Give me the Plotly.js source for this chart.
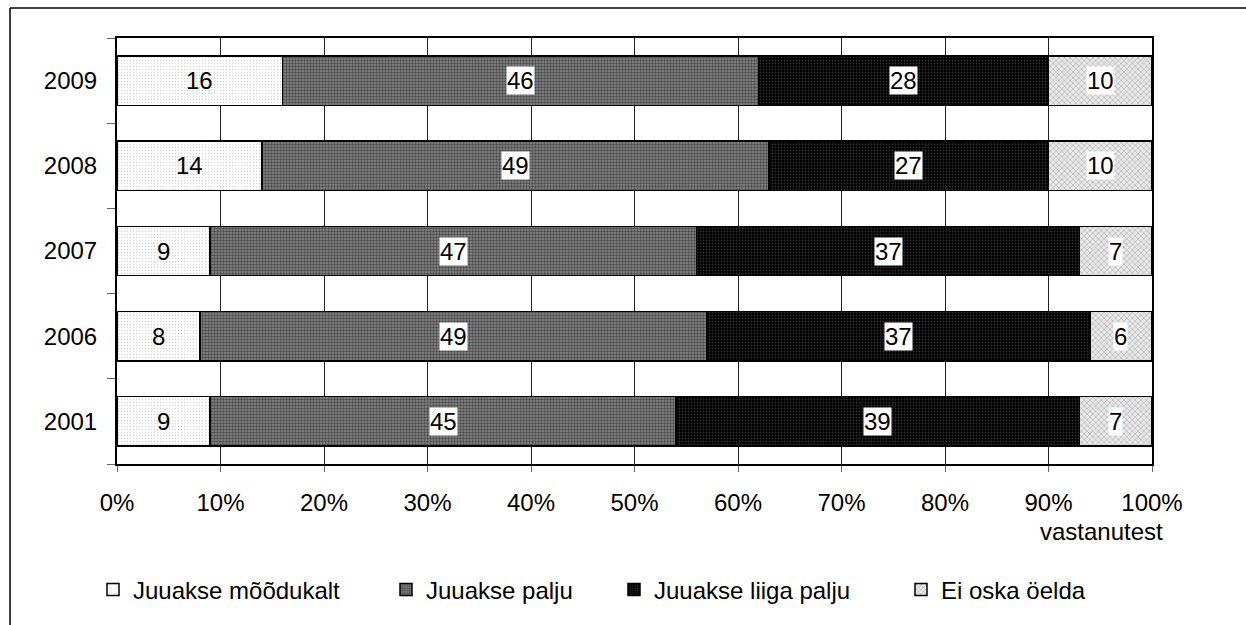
<!DOCTYPE html>
<html>
<head>
<meta charset="utf-8">
<script src="https://cdn.plot.ly/plotly-3.0.1.min.js"></script>
<style>html,body{margin:0;padding:0;background:#fff;}#chart{width:1246px;height:625px;}</style>
</head>
<body>
<div id="chart"></div>
<script>
// Data
const years = ['2009', '2008', '2007', '2006', '2001'];
const seriesNames = ['Juuakse mõõdukalt', 'Juuakse palju', 'Juuakse liiga palju', 'Ei oska öelda'];
const moodukalt = [16, 14, 9, 8, 9];
const palju = [46, 49, 47, 49, 45];
const liigaPalju = [28, 27, 37, 37, 39];
const eiOska = [10, 10, 7, 6, 7];
const xTickVals = [0, 10, 20, 30, 40, 50, 60, 70, 80, 90, 100];
const xTickText = ['0%', '10%', '20%', '30%', '40%', '50%', '60%', '70%', '80%', '90%', '100%'];
const unitLabel = 'vastanutest';

const allSeries = [moodukalt, palju, liigaPalju, eiOska];
const catOrder = years.slice().reverse(); // bottom to top
const patterns = [
  {shape: '.', bgcolor: '#ffffff', fgcolor: '#d2d2d2', size: 3, solidity: 0.15},
  {shape: '.', bgcolor: '#8a8a8a', fgcolor: '#4a4a4a', size: 3, solidity: 0.5},
  {shape: '.', bgcolor: '#000000', fgcolor: '#2e2e2e', size: 3, solidity: 0.3},
  {shape: 'x', bgcolor: '#e8e8e8', fgcolor: '#b0b0b0', size: 4, solidity: 0.3}
];
const legendIds = ['legend', 'legend2', 'legend3', 'legend4'];
const legendSquareX = [107, 400, 628, 915];

const mkFont = () => ({family: 'Liberation Sans, Arial, sans-serif', size: 24, color: '#000'});

const traces = allSeries.map((vals, i) => ({
  type: 'bar',
  orientation: 'h',
  name: seriesNames[i],
  y: years,
  x: vals,
  width: 0.58,
  legend: legendIds[i],
  marker: {pattern: patterns[i], color: patterns[i].bgcolor, line: {color: '#000', width: 1.5}}
}));

const annotations = [];
years.forEach((yr, j) => {
  let cum = 0;
  allSeries.forEach((vals, i) => {
    const v = vals[j];
    annotations.push({
      x: cum + v / 2, y: catOrder.indexOf(yr), xref: 'x', yref: 'y',
      text: String(v), showarrow: false,
      font: mkFont(),
      bgcolor: i === 0 ? 'rgba(0,0,0,0)' : '#ffffff',
      borderpad: 0
    });
    cum += v;
  });
});

const plotL = 117, plotR = 1152, plotT = 38, plotB = 464;
const W = 1246, H = 625;
const pw = plotR - plotL, ph = plotB - plotT;
const px = x => (x - plotL) / pw;
const py = y => (plotB - y) / ph;

annotations.push({
  x: 1, xref: 'paper', xanchor: 'right', xshift: 13,
  y: py(531), yref: 'paper', yanchor: 'middle',
  text: unitLabel, showarrow: false, font: mkFont()
});

const layout = {
  width: W, height: H,
  margin: {l: plotL, r: W - plotR, t: plotT, b: H - plotB, pad: 0},
  paper_bgcolor: '#fff', plot_bgcolor: '#fff',
  barmode: 'stack',
  font: mkFont(),
  xaxis: {
    range: [0, 100], tickvals: xTickVals, ticktext: xTickText,
    showgrid: true, gridcolor: '#222', gridwidth: 1,
    showline: true, linecolor: '#000', linewidth: 2, mirror: true,
    ticks: 'outside', ticklen: 6, tickcolor: '#666', tickwidth: 1,
    ticklabelstandoff: 10,
    zeroline: false, tickfont: mkFont()
  },
  yaxis: {
    type: 'category', categoryorder: 'array', categoryarray: catOrder,
    range: [-0.5, 4.5], autorange: false,
    showgrid: false, showline: true, linecolor: '#000', linewidth: 2, mirror: true,
    ticks: 'outside', ticklen: 8, tickcolor: '#666', tickwidth: 1,
    tickson: 'boundaries', ticklabelstandoff: 13,
    tickfont: mkFont()
  },
  annotations: annotations,
  shapes: [
    {type: 'line', xref: 'paper', yref: 'paper', x0: px(10), x1: px(10), y0: py(H + 5), y1: py(8), line: {color: '#000', width: 1.5}},
    {type: 'line', xref: 'paper', yref: 'paper', x0: px(10), x1: px(W + 5), y0: py(8), y1: py(8), line: {color: '#000', width: 1.5}}
  ],
  showlegend: true
};
legendIds.forEach((id, i) => {
  layout[id] = {
    orientation: 'h', x: px(legendSquareX[i] - 14), xanchor: 'left',
    y: py(590), yanchor: 'middle', yref: 'paper',
    font: mkFont(), bgcolor: 'rgba(0,0,0,0)', borderwidth: 0
  };
});

Plotly.newPlot('chart', traces, layout, {displayModeBar: false});
</script>
</body>
</html>
